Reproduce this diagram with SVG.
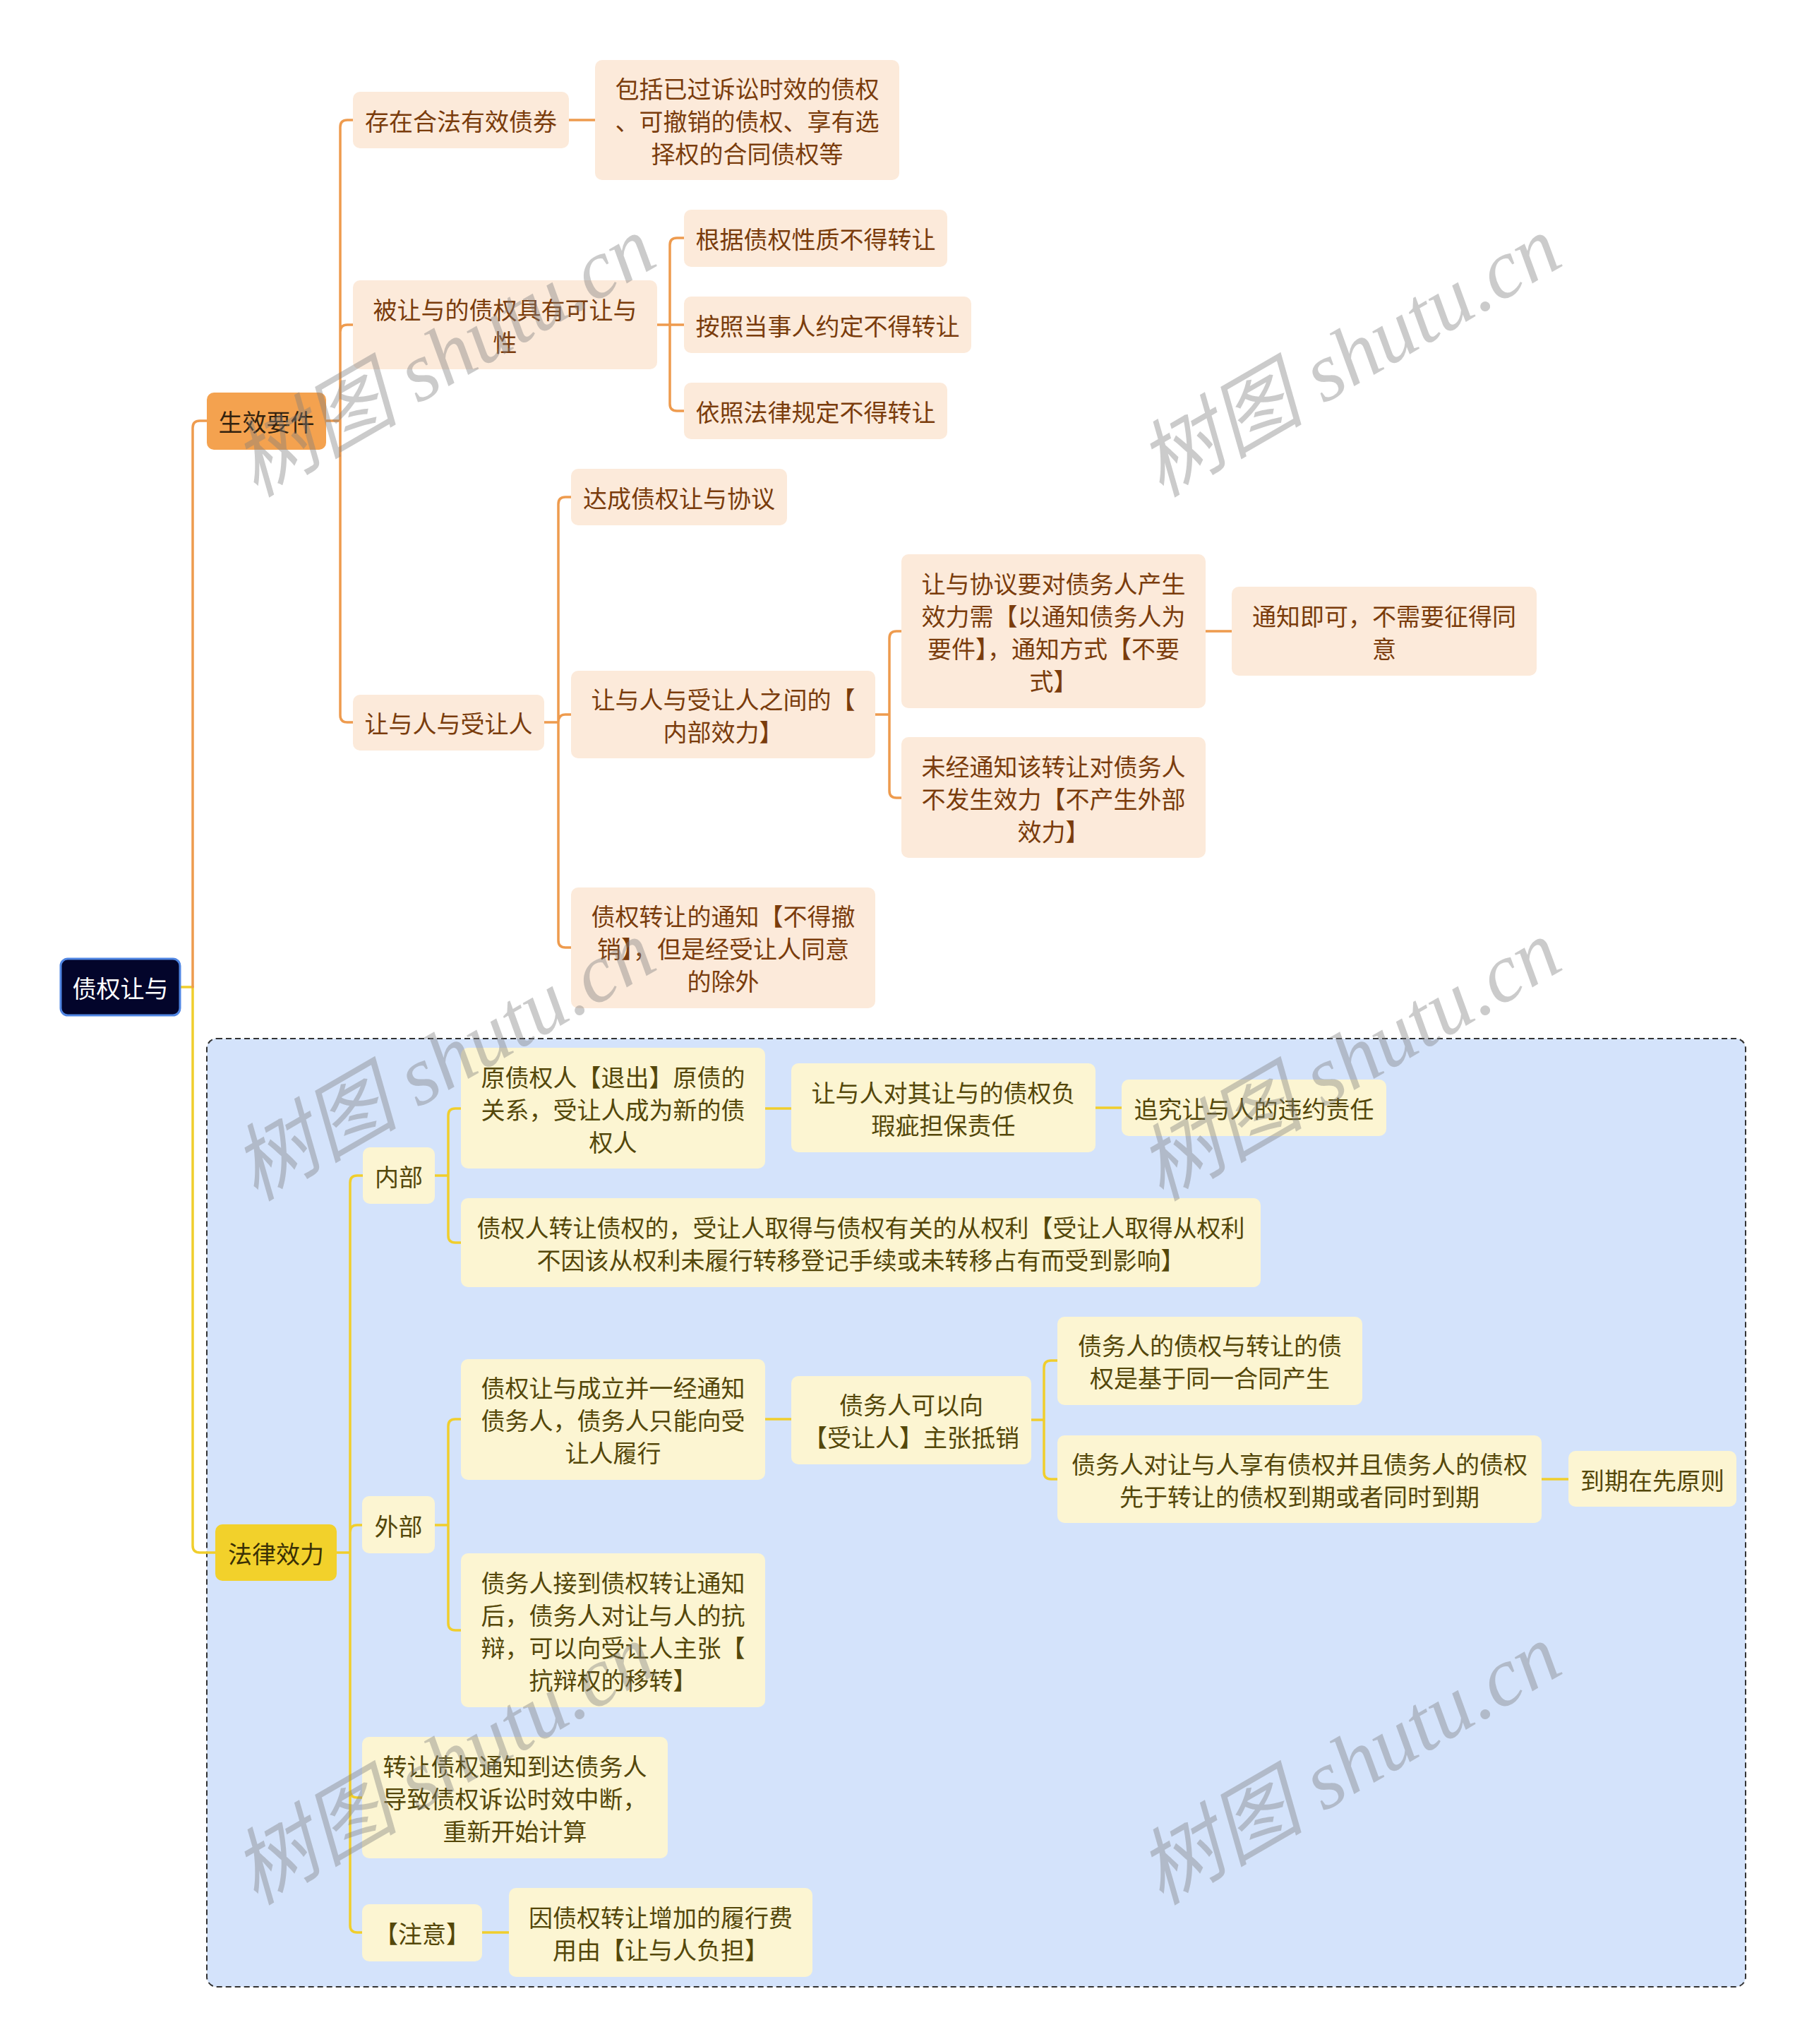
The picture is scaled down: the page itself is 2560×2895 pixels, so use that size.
<svg xmlns="http://www.w3.org/2000/svg" width="2560" height="2895" viewBox="0 0 2560 2895">
<style>
text{font-family:"Noto Sans CJK SC","Noto Sans",sans-serif;font-size:34px;text-anchor:middle;dominant-baseline:central}
.o rect{fill:#FCEADA}
.o text{fill:#7A3C0C}
.y rect{fill:#FCF5D2}
.y text{fill:#54470A}
.co{fill:none;stroke:#EE9B4E;stroke-width:3.5;stroke-linecap:round}
.cy{fill:none;stroke:#F0CE2C;stroke-width:3.5;stroke-linecap:round}
.wm{font-family:"Liberation Serif","Noto Sans CJK SC",serif;font-style:italic;font-size:118px;fill:#7f7f7f;opacity:0.4;text-anchor:start;dominant-baseline:alphabetic}
</style>
<rect x="0" y="0" width="2560" height="2895" fill="#FFFFFF"/>
<rect x="293" y="1471" width="2180" height="1343" rx="14" fill="#D4E3FB" stroke="#333" stroke-width="2" stroke-dasharray="8 5"/>
<g id="connectors">
<path class="cy" d="M255,1398 H273 V2189 Q273,2199 283,2199 H305"/>
<path class="co" d="M273,1398 V606 Q273,596 283,596 H293"/>
<path class="co" d="M462,596 H482 M482,596 V180 Q482,170 492,170 H500 M482,596 V470 Q482,460 492,460 H500 M482,596 V1013 Q482,1023 492,1023 H500"/>
<path class="co" d="M806,170 H843"/>
<path class="co" d="M931,460 H949 M949,460 V347 Q949,337 959,337 H969 M949,460 H969 M949,460 V572 Q949,582 959,582 H969"/>
<path class="co" d="M771,1023 H791 M791,1023 V714 Q791,704 801,704 H809 M791,1023 Q791,1012 801,1012 H809 M791,1023 V1332 Q791,1342 801,1342 H809"/>
<path class="co" d="M1240,1012 H1260 M1260,1012 V904 Q1260,894 1270,894 H1277 M1260,1012 V1120 Q1260,1130 1270,1130 H1277"/>
<path class="co" d="M1708,894 H1745"/>
<path class="cy" d="M477,2199 H496 M496,2199 V1675 Q496,1665 506,1665 H514 M496,2199 V2170 Q496,2160 506,2160 H513 M496,2199 V2536 Q496,2546 506,2546 H513 M496,2199 V2727 Q496,2737 506,2737 H513"/>
<path class="cy" d="M616,1665 H635 M635,1665 V1580 Q635,1570 645,1570 H653 M635,1665 V1750 Q635,1760 645,1760 H653"/>
<path class="cy" d="M1084,1570 H1121 M1552,1569 H1589"/>
<path class="cy" d="M616,2160 H635 M635,2160 V2020 Q635,2010 645,2010 H653 M635,2160 V2299 Q635,2309 645,2309 H653"/>
<path class="cy" d="M1084,2010 H1121"/>
<path class="cy" d="M1461,2011 H1479 M1479,2011 V1937 Q1479,1927 1489,1927 H1498 M1479,2011 V2085 Q1479,2095 1489,2095 H1498"/>
<path class="cy" d="M2184,2095 H2222"/>
<path class="cy" d="M683,2737 H721"/>
</g>
<g id="root"><rect x="86" y="1358" width="169" height="80" rx="10" fill="#03052B" stroke="#4F85E2" stroke-width="3"/><text x="170.5" y="1398" fill="#FFFFFF">债权让与</text></g>
<g id="n_sxyj"><rect x="293" y="556" width="169" height="81" rx="10" fill="#F4A24F"/><text x="377.5" y="596" fill="#33220F">生效要件</text></g>
<g id="n_czhf" class="o"><rect x="500" y="130" width="306" height="80" rx="10"/><text x="653" y="170">存在合法有效债券</text></g>
<g id="n_bkgy" class="o"><rect x="843" y="85" width="431" height="170" rx="10"/><text x="1058.5" y="124">包括已过诉讼时效的债权</text><text x="1058.5" y="170">、可撤销的债权、享有选</text><text x="1058.5" y="216">择权的合同债权等</text></g>
<g id="n_brydzq" class="o"><rect x="500" y="397" width="431" height="126" rx="10"/><text x="715.5" y="437">被让与的债权具有可让与</text><text x="715.5" y="483">性</text></g>
<g id="n_gjzq" class="o"><rect x="969" y="297" width="373" height="81" rx="10"/><text x="1155.5" y="337">根据债权性质不得转让</text></g>
<g id="n_azdsr" class="o"><rect x="969" y="420" width="407" height="80" rx="10"/><text x="1172.5" y="460">按照当事人约定不得转让</text></g>
<g id="n_yzfl" class="o"><rect x="969" y="542" width="373" height="80" rx="10"/><text x="1155.5" y="582">依照法律规定不得转让</text></g>
<g id="n_ryrsr" class="o"><rect x="500" y="984" width="271" height="79" rx="10"/><text x="635.5" y="1023">让与人与受让人</text></g>
<g id="n_dczq" class="o"><rect x="809" y="664" width="306" height="80" rx="10"/><text x="962" y="704">达成债权让与协议</text></g>
<g id="n_nbxl" class="o"><rect x="809" y="950" width="431" height="124" rx="10"/><text x="1024.5" y="989">让与人与受让人之间的【</text><text x="1024.5" y="1035">内部效力】</text></g>
<g id="n_zqzrtz" class="o"><rect x="809" y="1257" width="431" height="171" rx="10"/><text x="1024.5" y="1296">债权转让的通知【不得撤</text><text x="1024.5" y="1342">销】，但是经受让人同意</text><text x="1024.5" y="1388">的除外</text></g>
<g id="n_rxxy" class="o"><rect x="1277" y="785" width="431" height="218" rx="10"/><text x="1492.5" y="825">让与协议要对债务人产生</text><text x="1492.5" y="871">效力需【以通知债务人为</text><text x="1492.5" y="917">要件】，通知方式【不要</text><text x="1492.5" y="963">式】</text></g>
<g id="n_tzjk" class="o"><rect x="1745" y="831" width="432" height="126" rx="10"/><text x="1961" y="871">通知即可，不需要征得同</text><text x="1961" y="917">意</text></g>
<g id="n_wjtz" class="o"><rect x="1277" y="1044" width="431" height="171" rx="10"/><text x="1492.5" y="1084">未经通知该转让对债务人</text><text x="1492.5" y="1130">不发生效力【不产生外部</text><text x="1492.5" y="1176">效力】</text></g>
<g id="n_flxl"><rect x="305" y="2159" width="172" height="80" rx="10" fill="#F2D12B"/><text x="391" y="2199" fill="#3A3005">法律效力</text></g>
<g id="n_nb" class="y"><rect x="514" y="1625" width="102" height="80" rx="10"/><text x="565" y="1665">内部</text></g>
<g id="n_yzqr" class="y"><rect x="653" y="1484" width="431" height="171" rx="10"/><text x="868.5" y="1524">原债权人【退出】原债的</text><text x="868.5" y="1570">关系，受让人成为新的债</text><text x="868.5" y="1616">权人</text></g>
<g id="n_xcdb" class="y"><rect x="1121" y="1506" width="431" height="126" rx="10"/><text x="1336.5" y="1546">让与人对其让与的债权负</text><text x="1336.5" y="1592">瑕疵担保责任</text></g>
<g id="n_zjwy" class="y"><rect x="1589" y="1529" width="375" height="80" rx="10"/><text x="1776.5" y="1569">追究让与人的违约责任</text></g>
<g id="n_cql" class="y"><rect x="653" y="1697" width="1133" height="126" rx="10"/><text x="1219.5" y="1737">债权人转让债权的，受让人取得与债权有关的从权利【受让人取得从权利</text><text x="1219.5" y="1783">不因该从权利未履行转移登记手续或未转移占有而受到影响】</text></g>
<g id="n_wb" class="y"><rect x="513" y="2119" width="103" height="81" rx="10"/><text x="564.5" y="2160">外部</text></g>
<g id="n_clbtz" class="y"><rect x="653" y="1925" width="431" height="171" rx="10"/><text x="868.5" y="1964">债权让与成立并一经通知</text><text x="868.5" y="2010">债务人，债务人只能向受</text><text x="868.5" y="2056">让人履行</text></g>
<g id="n_zzdx" class="y"><rect x="1121" y="1949" width="340" height="125" rx="10"/><text x="1291" y="1988">债务人可以向</text><text x="1291" y="2034">【受让人】主张抵销</text></g>
<g id="n_tyht" class="y"><rect x="1498" y="1865" width="432" height="125" rx="10"/><text x="1714" y="1904">债务人的债权与转让的债</text><text x="1714" y="1950">权是基于同一合同产生</text></g>
<g id="n_xyzr" class="y"><rect x="1498" y="2033" width="686" height="124" rx="10"/><text x="1841" y="2072">债务人对让与人享有债权并且债务人的债权</text><text x="1841" y="2118">先于转让的债权到期或者同时到期</text></g>
<g id="n_dqzx" class="y"><rect x="2222" y="2055" width="238" height="79" rx="10"/><text x="2341" y="2095">到期在先原则</text></g>
<g id="n_kbq" class="y"><rect x="653" y="2200" width="431" height="218" rx="10"/><text x="868.5" y="2240">债务人接到债权转让通知</text><text x="868.5" y="2286">后，债务人对让与人的抗</text><text x="868.5" y="2332">辩，可以向受让人主张【</text><text x="868.5" y="2378">抗辩权的移转】</text></g>
<g id="n_sxzd" class="y"><rect x="513" y="2460" width="433" height="172" rx="10"/><text x="729.5" y="2500">转让债权通知到达债务人</text><text x="729.5" y="2546">导致债权诉讼时效中断，</text><text x="729.5" y="2592">重新开始计算</text></g>
<g id="n_zy" class="y"><rect x="513" y="2697" width="170" height="81" rx="10"/><text x="598" y="2737">【注意】</text></g>
<g id="n_lxfy" class="y"><rect x="721" y="2674" width="430" height="126" rx="10"/><text x="936" y="2714">因债权转让增加的履行费</text><text x="936" y="2760">用由【让与人负担】</text></g>
<g id="watermarks">
<text class="wm" transform="translate(362,705) rotate(-30)">树图 shutu.cn</text>
<text class="wm" transform="translate(1645,705) rotate(-30)">树图 shutu.cn</text>
<text class="wm" transform="translate(362,1702) rotate(-30)">树图 shutu.cn</text>
<text class="wm" transform="translate(1645,1702) rotate(-30)">树图 shutu.cn</text>
<text class="wm" transform="translate(362,2699) rotate(-30)">树图 shutu.cn</text>
<text class="wm" transform="translate(1645,2699) rotate(-30)">树图 shutu.cn</text>
</g>
</svg>
